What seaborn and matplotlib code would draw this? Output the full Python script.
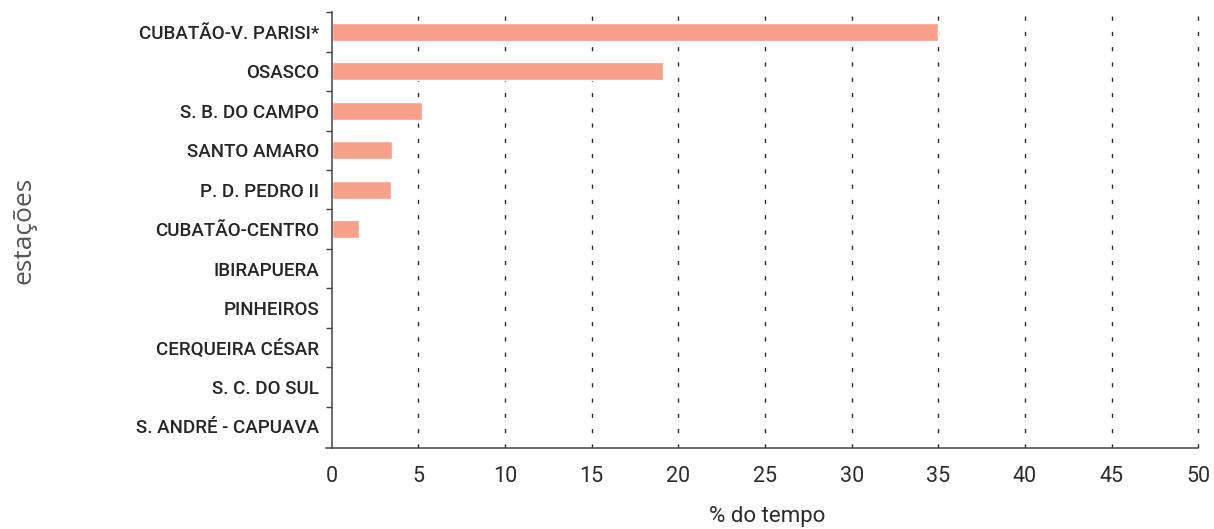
import matplotlib
matplotlib.use("Agg")
import matplotlib.pyplot as plt
import seaborn as sns
import pandas as pd
import numpy as np

estacoes = ["CUBATÃO-V. PARISI*", "OSASCO", "S. B. DO CAMPO", "SANTO AMARO",
            "P. D. PEDRO II", "CUBATÃO-CENTRO", "IBIRAPUERA", "PINHEIROS",
            "CERQUEIRA CÉSAR", "S. C. DO SUL", "S. ANDRÉ - CAPUAVA"]
tempo = [35.0, 19.1, 5.2, 3.5, 3.4, 1.6, 0, 0, 0, 0, 0]
xticks = [0, 5, 10, 15, 20, 25, 30, 35, 40, 45, 50]

df = pd.DataFrame({"estacao": estacoes, "tempo": tempo})

sns.set_theme(style="white")
plt.rcParams["font.family"] = ["Roboto", "DejaVu Sans"]

fig = plt.figure(figsize=(12.14, 5.29), dpi=100)
ax = fig.add_axes([0.2732, 0.153, 0.7168, 0.824])

sns.barplot(data=df, x="tempo", y="estacao", color="#F9A08A", saturation=1,
            width=0.46, ax=ax)

# dashed vertical guides
for v in xticks[1:]:
    ax.axvline(v, color="#2a2a2a", lw=1.0, linestyle=(0, (3, 8)), zorder=0)

ax.set_xlim(0, 50.2)
ax.set_ylim(10.55, -0.45)
ax.set_xticks(xticks)
ax.set_xticklabels([str(t) for t in xticks], fontsize=15.5, color="#2b2b2b")
ax.tick_params(axis="x", direction="inout", length=8, width=1, color="#444444", pad=9)
ax.tick_params(axis="y", length=0, pad=9, labelsize=13.5, labelcolor="#262626")
for lab in ax.get_yticklabels():
    lab.set_fontweight("medium")
ax.set_yticks(np.arange(-0.5, 10.5, 1), minor=True)
ax.tick_params(axis="y", which="minor", direction="out", length=4, width=1, color="#444444", left=True)

for s in ["top", "right"]:
    ax.spines[s].set_visible(False)
for s in ["left", "bottom"]:
    ax.spines[s].set_color("#444444")
    ax.spines[s].set_linewidth(1.1)
ax.spines["bottom"].set_bounds(-0.3, 50)

ax.set_xlabel("% do tempo", fontsize=16, color="#2b2b2b")
ax.xaxis.set_label_coords(0.5, -0.133)
ax.set_ylabel("estações", fontsize=19, color="#555555", family=["Open Sans", "DejaVu Sans"])
ax.yaxis.set_label_coords(-0.339, 0.5)

fig.savefig("out.png", dpi=100)
